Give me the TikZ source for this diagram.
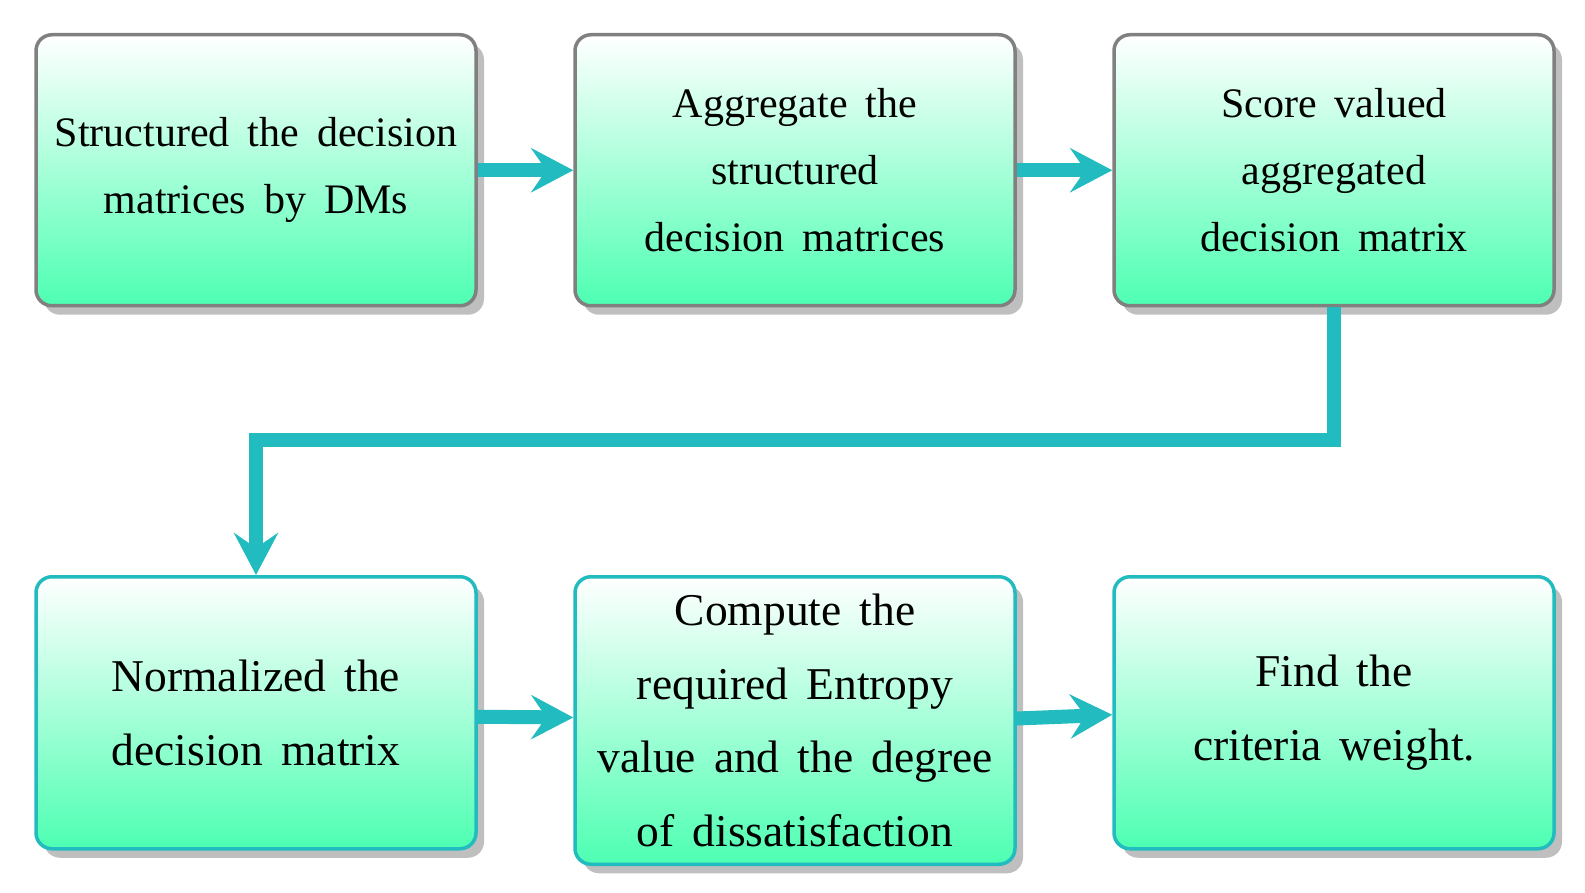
\documentclass[tikz,border=0pt]{standalone}
\usepackage{fontspec}
\setmainfont{Liberation Serif}
\usetikzlibrary{arrows.meta,shadows}
\definecolor{flowteal}{RGB}{34,187,191}
\definecolor{mintbot}{RGB}{77,255,178}
\definecolor{bordergray}{RGB}{128,128,128}
\definecolor{shadowgray}{RGB}{191,191,191}
\tikzset{
  stepbox/.style={rectangle, rounded corners=16pt, line width=3.5pt,
    top color=white, bottom color=mintbot,
    minimum width=440pt, minimum height=271pt,
    inner xsep=8pt, inner ysep=17.5pt, align=center, anchor=north,
    drop shadow={shadow xshift=8pt, shadow yshift=-9pt, fill=shadowgray, opacity=1}},
  toprow/.style={stepbox, draw=bordergray,
    font={\fontsize{42}{67}\selectfont\spaceskip 18pt\relax}},
  botrow/.style={stepbox, draw=flowteal, minimum height=272pt,
    font={\fontsize{45.5}{73.5}\selectfont\spaceskip 18pt\relax}},
  flow/.style={draw=flowteal, line width=14pt,
    -{Stealth[length=42pt,width=44pt,inset=15pt]}}
}
\begin{document}
\begin{tikzpicture}[x=1pt,y=-1pt]
\useasboundingbox (0,0) rectangle (1585,893);
\node[toprow] (b1) at (256,33) {Structured the decision\\matrices by DMs};
\node[toprow] (b2) at (795,33) {Aggregate the\\structured\\decision matrices};
\node[toprow] (b3) at (1334,33) {Score valued\\aggregated\\decision matrix};
\node[botrow] (b4) at (256,575) {Normalized the\\decision matrix};
\node[botrow] (b5) at (795,575) {Compute the\\required Entropy\\value and the degree\\of dissatisfaction};
\node[botrow] (b6) at (1334,575) {Find the\\criteria weight.};
\coordinate (bend) at (0,440);
\draw[flow] (b1.east) -- (b2.west);
\draw[flow] (b2.east) -- (b3.west);
\draw[flow] (b3.south) -- (b3.south |- bend) -| (b4.north);
\draw[flow] ([yshift=-4pt]b4.east) -- ([yshift=3pt]b5.west);
\draw[flow] ([yshift=2pt]b5.east) -- ([yshift=-2pt]b6.west);
\end{tikzpicture}
\end{document}
